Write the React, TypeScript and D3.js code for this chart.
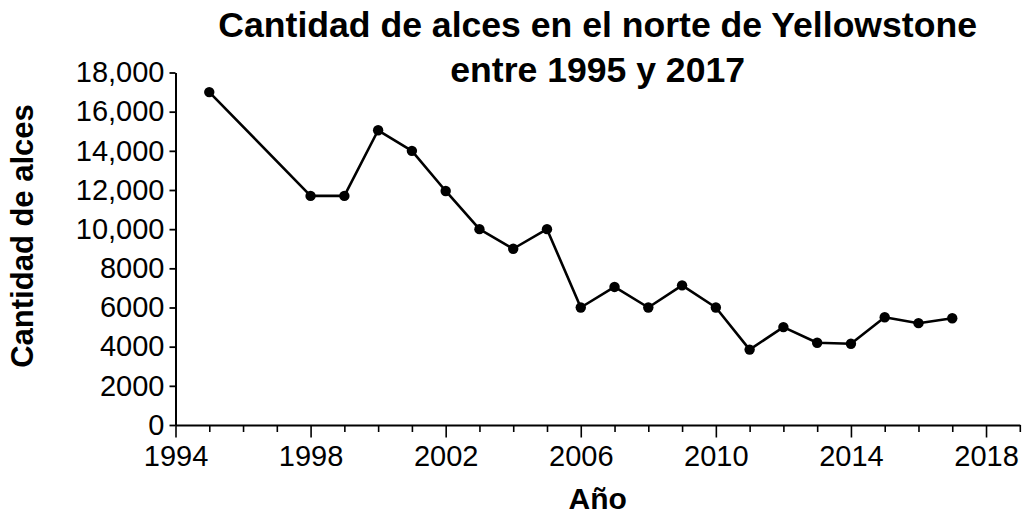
import * as d3 from "d3";
import { useEffect, useRef } from "react";

const years = [1995, 1998, 1999, 2000, 2001, 2002, 2003, 2004, 2005, 2006, 2007, 2008, 2009, 2010, 2011, 2012, 2013, 2014, 2015, 2016, 2017];
const elk = [17000, 11700, 11700, 15050, 14000, 11950, 10000, 9000, 10000, 6000, 7050, 6000, 7130, 6000, 3850, 5000, 4200, 4150, 5500, 5200, 5450];
const yTicks = [0, 2000, 4000, 6000, 8000, 10000, 12000, 14000, 16000, 18000];
const xMajor = [1994, 1998, 2002, 2006, 2010, 2014, 2018];
const titleLines = ["Cantidad de alces en el norte de Yellowstone", "entre 1995 y 2017"];

const W = 1026;
const H = 516;
const FONT = "'Liberation Sans', Arial, sans-serif";

const redraw = (ref) => {
  const svg = d3.select(ref.current);
  svg.selectAll("*").remove();

  const x = d3.scaleLinear().domain([1994, 2019]).range([175.5, 1019.8]);
  const y = d3.scaleLinear().domain([0, 18000]).range([425, 72.5]);

  const fmt = (d) => (d >= 10000 ? d3.format(",")(d) : String(d));

  // y axis
  const gy = svg.append("g").attr("transform", `translate(${x(1994)},0)`)
    .call(d3.axisLeft(y).tickValues(yTicks).tickFormat(fmt).tickSizeInner(6).tickSizeOuter(0).tickPadding(5));
  gy.select(".domain").attr("stroke", "#000").attr("stroke-width", 2);
  gy.selectAll(".tick line").attr("stroke", "#000").attr("stroke-width", 1.8);
  gy.selectAll(".tick text").attr("font-size", 29).attr("font-family", FONT).attr("fill", "#000");

  // x axis minor ticks (every year)
  const minor = d3.range(1994, 2020).filter((v) => !xMajor.includes(v));
  const gxm = svg.append("g").attr("transform", `translate(0,${y(0)})`)
    .call(d3.axisBottom(x).tickValues(minor).tickFormat(() => "").tickSizeInner(7).tickSizeOuter(0));
  gxm.select(".domain").remove();
  gxm.selectAll(".tick line").attr("stroke", "#000").attr("stroke-width", 1.6);

  // x axis major ticks
  const gx = svg.append("g").attr("transform", `translate(0,${y(0)})`)
    .call(d3.axisBottom(x).tickValues(xMajor).tickFormat(d3.format("d")).tickSizeInner(12.5).tickSizeOuter(0).tickPadding(8));
  gx.select(".domain").attr("stroke", "#000").attr("stroke-width", 2);
  gx.selectAll(".tick line").attr("stroke", "#000").attr("stroke-width", 1.6);
  gx.selectAll(".tick text").attr("font-size", 29).attr("font-family", FONT).attr("fill", "#000");

  const data = years.map((yr, i) => ({ yr, v: elk[i] }));

  const line = d3.line().x((d) => x(d.yr)).y((d) => y(d.v));
  svg.append("path").datum(data).attr("d", line)
    .attr("fill", "none").attr("stroke", "#000").attr("stroke-width", 2.6).attr("stroke-linejoin", "round");

  svg.selectAll("circle.pt").data(data).enter().append("circle")
    .attr("class", "pt")
    .attr("cx", (d) => x(d.yr))
    .attr("cy", (d) => y(d.v))
    .attr("r", 5.2)
    .attr("fill", "#000");

  // title
  const cx = (x(1994) + x(2019)) / 2;
  svg.append("text").attr("x", cx).attr("text-anchor", "middle")
    .attr("font-family", FONT).attr("font-weight", "bold").attr("font-size", 35.6)
    .selectAll("tspan").data(titleLines).enter().append("tspan")
    .attr("x", cx).attr("y", (d, i) => 37 + i * 45).text((d) => d);

  // axis titles
  svg.append("text").attr("x", cx).attr("y", 509).attr("text-anchor", "middle")
    .attr("font-family", FONT).attr("font-weight", "bold").attr("font-size", 30).text("Año");

  svg.append("text").attr("transform", "translate(33,236) rotate(-90)").attr("text-anchor", "middle")
    .attr("font-family", FONT).attr("font-weight", "bold").attr("font-size", 31).text("Cantidad de alces");
};

export default function App() {
  const ref = useRef(null);

  useEffect(() => {
    redraw(ref);
  }, []);

  return (
    <svg ref={ref} width={W} height={H}
      style={{ position: "absolute", left: 0, top: 0, background: "#fff", display: "block" }} />
  );
}
